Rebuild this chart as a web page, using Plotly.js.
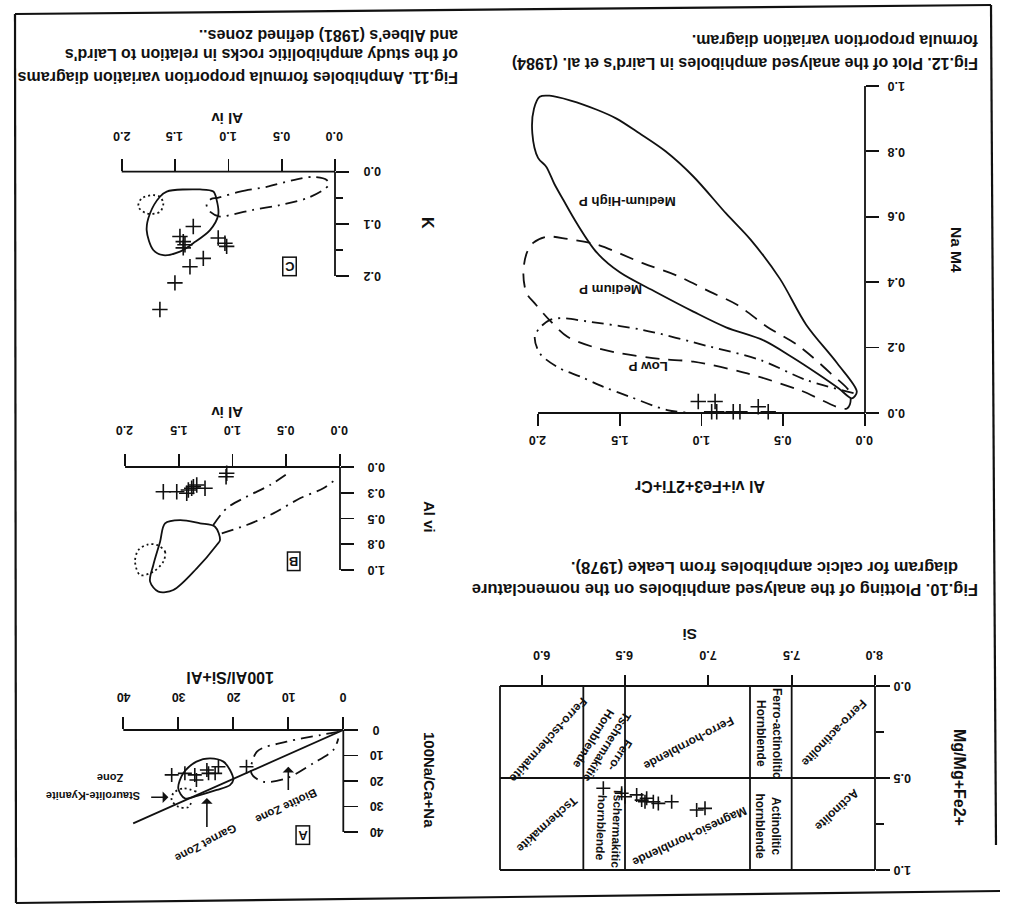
<!DOCTYPE html>
<html><head><meta charset="utf-8">
<script src="https://cdn.plot.ly/plotly-3.0.1.min.js"></script>
<style>html,body{margin:0;padding:0;background:#fff;}#chart{width:1010px;height:910px;}</style>
</head><body><div id="chart"></div>
<script>
// ================= DATA =================
// Fig.12  Laird et al. (1984): Al vi+Fe3+2Ti+Cr  vs  Na M4
const lairdXTicks = [0, 0.5, 1.0, 1.5, 2.0];
const lairdXTickText = ['0.0', '0.5', '1.0', '1.5', '2.0'];
const lairdYTicks = [0, 0.2, 0.4, 0.6, 0.8, 1.0];
const lairdYTickText = ['0.0', '0.2', '0.4', '0.6', '0.8', '1.0'];
const medHighPX = [0.05,0.17,0.36,0.52,0.70,0.85,1.05,1.22,1.38,1.52,1.64,1.80,1.93,1.99,2.025,2.035,2.00,1.95,1.90,1.845,1.763,1.64,1.50,1.28,1.05,0.85,0.62,0.45,0.29,0.16,0.08,0.05];
const medHighPY = [0.065,0.152,0.27,0.41,0.53,0.61,0.723,0.80,0.855,0.90,0.927,0.955,0.970,0.967,0.93,0.855,0.78,0.753,0.70,0.651,0.58,0.49,0.43,0.37,0.31,0.262,0.222,0.172,0.12,0.075,0.045,0.065];
const mediumPX = [0.09,0.21,0.40,0.60,0.78,0.95,1.15,1.36,1.64,1.82,1.947,2.03,2.07,2.09,2.07,2.02,1.93,1.82,1.65,1.50,1.25,1.05,0.72,0.40,0.11,0.09];
const mediumPY = [0.06,0.121,0.203,0.264,0.33,0.371,0.42,0.458,0.515,0.532,0.539,0.52,0.488,0.427,0.366,0.335,0.284,0.233,0.20,0.183,0.165,0.157,0.121,0.07,0.014,0.06];
const lowPX = [0.07,0.36,0.64,0.95,1.36,1.70,1.865,1.93,1.99,2.02,1.99,1.88,1.74,1.60,1.44,1.21,1.05];
const lowPY = [0.061,0.101,0.162,0.203,0.254,0.28,0.29,0.284,0.26,0.233,0.183,0.14,0.111,0.08,0.05,0.009,0.0];
const lairdSampleX = [1.02, 0.917, 0.653, 0.938, 0.907, 0.806, 0.765, 0.592];
const lairdSampleY = [0.035, 0.035, 0.019, 0.004, 0.004, 0.004, 0.004, 0.004];
const lairdFieldNames = ['Medium-High P', 'Medium P', 'Low P'];

// Fig.10  Leake (1978): Si vs Mg/Mg+Fe2+
const siTicks = [6.0, 6.5, 7.0, 7.5, 8.0];
const siTickText = ['6.0', '6.5', '7.0', '7.5', '8.0'];
const mgTicks = [0, 0.5, 1.0];
const mgTickText = ['0.0', '0.5', '1.0'];
const mgMinorTicks = [0.25, 0.75];
const siBounds = [5.75, 6.25, 6.5, 7.25, 7.5, 8.0];
const mgBounds = [0, 0.5, 1.0];
const leakeSi = [6.37, 6.48, 6.50, 6.57, 6.60, 6.62, 6.63, 6.67, 6.70, 6.78, 6.93, 6.98];
const leakeMg = [0.556, 0.583, 0.602, 0.592, 0.620, 0.629, 0.610, 0.629, 0.638, 0.629, 0.674, 0.665];
const leakeFieldNames = ['Ferro-actinolite', 'Actinolite', 'Ferro-actinolitic<br>Hornblende', 'Actinolitic<br>hornblende',
  'Ferro-hornblende', 'Magnesio-hornblende', 'Ferro-<br>Tschermakitic<br>Hornblende', 'Tschermakitic<br>hornblende',
  'Ferro-tschermakite', 'Tschermakite'];

// Fig.11 [C]  Al iv vs K
const alivTicks = [0, 0.5, 1.0, 1.5, 2.0];
const alivTickText = ['0.0', '0.5', '1.0', '1.5', '2.0'];
const kTicks = [0, 0.1, 0.2];
const kTickText = ['0.0', '0.1', '0.2'];
const kMinorTicks = [0.05, 0.15];
const garnetCX = [1.11,1.141,1.266,1.578,1.642,1.735,1.766,1.704,1.61,1.454,1.329,1.172,1.095,1.11];
const garnetCY = [0.054,0.038,0.034,0.038,0.048,0.080,0.112,0.150,0.160,0.153,0.137,0.112,0.083,0.054];
const stauroCX = [1.642,1.61,1.642,1.766,1.844,1.813,1.704,1.642];
const stauroCY = [0.048,0.061,0.077,0.080,0.067,0.051,0.045,0.048];
const biotiteCX = [1.10,0.891,0.641,0.391,0.204,0.078,0.06,0.110,0.265,0.516,0.766,0.985,1.079,1.18,1.204,1.16,1.10];
const biotiteCY = [0.05,0.038,0.029,0.016,0.010,0.016,0.025,0.035,0.051,0.064,0.073,0.083,0.086,0.075,0.062,0.052,0.05];
const sampleCX = [1.329, 1.454, 1.423, 1.407, 1.423, 1.095, 1.032, 1.016, 1.235, 1.360, 1.501, 1.642];
const sampleCY = [0.105, 0.124, 0.134, 0.140, 0.146, 0.127, 0.137, 0.143, 0.166, 0.182, 0.213, 0.264];

// Fig.11 [B]  Al iv vs Al vi
const alviTicks = [0, 0.25, 0.5, 0.75, 1.0];
const alviTickText = ['0.0', '0.3', '0.5', '0.8', '1.0'];
const garnetBX = [1.116,1.163,1.302,1.488,1.628,1.674,1.737,1.767,1.690,1.551,1.333,1.147,1.116];
const garnetBY = [0.709,0.580,0.547,0.515,0.547,0.725,0.951,1.113,1.210,1.194,0.984,0.757,0.709];
const stauroBX = [1.705,1.628,1.644,1.737,1.860,1.907,1.876,1.783,1.705];
const stauroBY = [0.757,0.822,0.919,1.016,1.049,0.919,0.806,0.751,0.757];
const biotiteBX = [1.179,1.054,0.868,0.651,0.465,null,1.100,0.868,0.620,0.372,0.155,0.031];
const biotiteBY = [0.563,0.401,0.288,0.175,0.046,null,0.644,0.563,0.450,0.304,0.207,0.110];
const sampleBX = [1.054, 1.060, 1.644, 1.519, 1.426, 1.411, 1.364, 1.333, 1.256, 1.380];
const sampleBY = [0.061, 0.094, 0.240, 0.240, 0.255, 0.223, 0.191, 0.175, 0.207, 0.207];

// Fig.11 [A]  100Al/Si+Al vs 100Na/Ca+Na
const aTicks = [0, 10, 20, 30, 40];
const aTickText = ['0', '10', '20', '30', '40'];
const zoneLineX = [0, 38.2];
const zoneLineY = [0, 36.6];
const garnetAX = [20,20.6,21.8,24.2,26.7,29.1,30.0,28.8,26.1,23.0,20.6,20];
const garnetAY = [19.6,15.7,12.4,11.1,12.4,17.0,22.9,26.8,25.5,23.5,21.6,19.6];
const stauroAX = [26.7,29.1,30.9,31.2,30.0,28.2,27.6];
const stauroAY = [24.2,22.9,24.8,27.5,30.1,30.3,28.1];
const biotiteAX = [0.9,4.2,10.3,15.7,16.7,14.5,10.3,5.5,1.8,0.9];
const biotiteAY = [0.7,2.0,4.6,8.5,17.0,20.3,18.9,13.1,7.8,3.3];
const sampleAX = [31.2, 28.8, 27.0, 26.7, 24.8, 24.5, 23.3, 22.7, 17.6];
const sampleAY = [17.6, 17.0, 17.6, 19.6, 15.7, 17.0, 17.0, 14.4, 14.4];
const zoneNamesA = ['Biotite Zone', 'Garnet Zone', 'Staurolite-Kyanite', 'Zone'];

// captions and axis titles
const captions = {
  fig12: ["Fig.12. Plot of the analysed amphiboles in Laird's et al. (1984)", 'formula proportion variation diagram.'],
  fig11: ['Fig.11. Amphiboles formula proportion variation diagrams', "of the study amphibolitic rocks in relation to Laird's", "and Albee's (1981) defined zones.."],
  fig10: ['Fig.10. Plotting of the analysed amphiboles on the nomenclature', 'diagram for calcic amphiboles from Leake (1978).']
};

// ================= LAYOUT / DRAWING =================
const W = 1010, H = 910;
const FONT = 'Liberation Sans, Arial, sans-serif';
const INK = '#111';
const LW = 1.8;
const fnt = (size) => ({family: FONT, size: size, color: INK, weight: 'bold'});

// subplot geometry: pixel boxes + ranges
const G = {
  f12: {x: 'x',  y: 'y',  xdom: [515, 865], ydom: [80, 413],   xr: [2.141, 0], yr: [0, 1.018], xside: 'bottom'},
  f10: {x: 'x2', y: 'y2', xdom: [498, 875], ydom: [686, 872],  xr: [5.738, 8.0], yr: [1.0109, 0], xside: 'top'},
  c:   {x: 'x3', y: 'y3', xdom: [115, 335], ydom: [171.7, 315], xr: [2.063, 0], yr: [0.2745, 0], xside: 'top'},
  b:   {x: 'x4', y: 'y4', xdom: [120, 340], ydom: [467, 598],  xr: [2.047, 0], yr: [1.272, 0], xside: 'top'},
  a:   {x: 'x5', y: 'y5', xdom: [80, 343.3], ydom: [730, 850], xr: [47.87, 0], yr: [47.06, 0], xside: 'top'}
};
const frac = (r, v) => (v - r[0]) / (r[1] - r[0]);

const layout = {
  width: W, height: H, margin: {l: 0, r: 0, t: 0, b: 0},
  paper_bgcolor: '#fff', plot_bgcolor: 'rgba(0,0,0,0)', showlegend: false, hovermode: false,
  shapes: [], annotations: []
};

function axisPair(key, xt, yt, xlen, ylen, yMinor, yMinorLen) {
  const g = G[key];
  const xn = g.x === 'x' ? 'xaxis' : 'xaxis' + g.x.slice(1);
  const yn = g.y === 'y' ? 'yaxis' : 'yaxis' + g.y.slice(1);
  const base = {showgrid: false, zeroline: false, showline: false, showticklabels: false,
    ticks: 'outside', tickcolor: INK, tickwidth: 1.7, fixedrange: true, tickmode: 'array'};
  layout[xn] = Object.assign({}, base, {domain: [g.xdom[0] / W, g.xdom[1] / W], range: g.xr,
    anchor: g.y, side: g.xside, tickvals: xt, ticklen: xlen});
  layout[yn] = Object.assign({}, base, {domain: [1 - g.ydom[1] / H, 1 - g.ydom[0] / H], range: g.yr,
    anchor: g.x, side: 'right', tickvals: yt, ticklen: ylen});
  if (yMinor) layout[yn].minor = {tickmode: 'array', tickvals: yMinor, ticks: 'outside', ticklen: yMinorLen, tickwidth: 1.7, tickcolor: INK};
}
axisPair('f12', lairdXTicks, lairdYTicks, 12, 13);
axisPair('f10', siTicks, mgTicks, 10, 14, mgMinorTicks, 8);
axisPair('c', alivTicks, kTicks, 12, 13, kMinorTicks, 7);
axisPair('b', alivTicks, alviTicks, 12, 13);
axisPair('a', aTicks, aTicks, 12, 14);

// line segment in data units, drawn with domain references (not clipped)
function seg(key, x0, y0, x1, y1, w) {
  const g = G[key];
  layout.shapes.push({type: 'line', xref: g.x + ' domain', yref: g.y + ' domain',
    x0: frac(g.xr, x0), y0: frac(g.yr, y0), x1: frac(g.xr, x1), y1: frac(g.yr, y1),
    line: {color: INK, width: w || LW}});
}
function axisLines(key, xt, yt, xAt, yAt) {
  seg(key, xt[0], yAt, xt[xt.length - 1], yAt);
  seg(key, xAt, yt[0], xAt, yt[yt.length - 1]);
}
axisLines('f12', lairdXTicks, lairdYTicks, 0, 0);
axisLines('c', alivTicks, kTicks, 0, 0);
axisLines('b', alivTicks, alviTicks, 0, 0);
axisLines('a', aTicks, aTicks, 0, 0);
// Leake diagram grid
siBounds.forEach(s => seg('f10', s, mgBounds[0], s, mgBounds[mgBounds.length - 1], LW));
mgBounds.forEach(m => seg('f10', siBounds[0], m, siBounds[siBounds.length - 1], m, LW));

// tick labels (upside down)
function tickLabelsX(key, vals, texts, yAt, shift) {
  const g = G[key];
  vals.forEach((v, i) => layout.annotations.push({xref: g.x, yref: g.y, x: v, y: yAt, yshift: shift,
    text: texts[i], textangle: 180, showarrow: false, font: fnt(12.5)}));
}
function tickLabelsY(key, vals, texts, xAt, shift) {
  const g = G[key];
  vals.forEach((v, i) => layout.annotations.push({xref: g.x, yref: g.y, x: xAt, y: v, xshift: shift,
    text: texts[i], textangle: 180, showarrow: false, font: fnt(12.5)}));
}
tickLabelsX('f12', lairdXTicks, lairdXTickText, 0, -27);
tickLabelsY('f12', lairdYTicks, lairdYTickText, 0, 32);
tickLabelsX('f10', siTicks, siTickText, 0, 31);
tickLabelsY('f10', mgTicks, mgTickText, 8.0, 28);
tickLabelsX('c', alivTicks, alivTickText, 0, 35);
tickLabelsY('c', kTicks, kTickText, 0, 38);
tickLabelsX('b', alivTicks, alivTickText, 0, 37);
tickLabelsY('b', alviTicks, alviTickText, 0, 37);
tickLabelsX('a', aTicks, aTickText, 0, 33);
tickLabelsY('a', aTicks, aTickText, 0, 33);

// text labels in paper pixels
function paperText(text, px, py, angle, size, xanchor) {
  layout.annotations.push({xref: 'paper', yref: 'paper', x: px / W, y: 1 - py / H, text: text,
    textangle: angle, showarrow: false, xanchor: xanchor || 'center', yanchor: 'middle', font: fnt(size)});
}
// text labels in data units
function dataText(key, text, x, y, angle, size, boxed) {
  const g = G[key];
  const a = {xref: g.x, yref: g.y, x: x, y: y, text: text, textangle: angle, showarrow: false, font: fnt(size)};
  if (boxed) { a.bordercolor = INK; a.borderwidth = 1.5; a.borderpad = 1; }
  layout.annotations.push(a);
}
// captions
paperText(captions.fig12[0], 980, 63, 180, 16, 'right');
paperText(captions.fig12[1], 980, 40, 180, 16, 'right');
paperText(captions.fig11[0], 460, 78, 180, 16, 'right');
paperText(captions.fig11[1], 460, 55, 180, 16, 'right');
paperText(captions.fig11[2], 460, 35, 180, 16, 'right');
paperText(captions.fig10[0], 980, 590, 180, 16.5, 'right');
paperText(captions.fig10[1], 960, 568, 180, 16.5, 'right');
// axis titles
paperText('Na M4', 957, 250, 90, 15.5);
paperText('Al vi+Fe3+2Ti+Cr', 700, 487, 180, 16);
paperText('Si', 690, 635, 180, 15.5);
paperText('Mg/Mg+Fe2+', 960, 777, 90, 16);
paperText('Al iv', 227, 118, 180, 15);
paperText('Al iv', 227, 412, 180, 15);
paperText('K', 428, 223, 90, 16);
paperText('Al vi', 430, 517, 90, 15);
paperText('100Al/Si+Al', 230, 678, 180, 16);
paperText('100Na/Ca+Na', 430, 780, 90, 15);

// field labels
dataText('f12', lairdFieldNames[0], 1.457, 0.646, 180, 13.3);
dataText('f12', lairdFieldNames[1], 1.56, 0.376, 180, 13.3);
dataText('f12', lairdFieldNames[2], 1.325, 0.142, 180, 13.3);
const leakePlace = [[7.75,0.257,134],[7.77,0.674,137],[7.36,0.257,90],[7.36,0.765,90],[6.88,0.311,152],
  [6.89,0.819,155],[6.39,0.330,122],[6.40,0.773,92],[6.04,0.293,132],[6.03,0.755,138]];
leakeFieldNames.forEach((n, i) => dataText('f10', n, leakePlace[i][0], leakePlace[i][1], leakePlace[i][2], 12));
dataText('c', 'C', 0.422, 0.182, 180, 13, true);
dataText('b', 'B', 0.434, 0.919, 180, 13, true);
dataText('a', 'A', 7.3, 41.2, 180, 13, true);
dataText('a', zoneNamesA[0], 10.3, 29.8, 155, 11.5);
dataText('a', zoneNamesA[1], 25.1, 44.4, 152, 11.5);
dataText('a', zoneNamesA[2], 45.5, 25.6, 180, 11);
dataText('a', zoneNamesA[3], 42.4, 18.9, 180, 11);
// arrows in [A]
function arrow(key, x, y, ax, ay) {
  const g = G[key];
  layout.annotations.push({xref: g.x, yref: g.y, axref: g.x, ayref: g.y, x: x, y: y, ax: ax, ay: ay,
    text: '', showarrow: true, arrowhead: 1, arrowsize: 1.2, arrowwidth: 1.6, arrowcolor: INK, standoff: 0});
}
arrow('a', 10.0, 14.4, 10.0, 24.1);
arrow('a', 24.8, 26.7, 24.8, 38.6);
arrow('a', 31.8, 26.4, 35.2, 26.4);

// page frame
function frameLine(x0, y0, x1, y1) {
  layout.shapes.push({type: 'line', xref: 'paper', yref: 'paper', x0: x0 / W, y0: 1 - y0 / H, x1: x1 / W, y1: 1 - y1 / H,
    line: {color: INK, width: 2.2}});
}
frameLine(15, 14, 16, 903);
frameLine(15, 14, 991, 5);
frameLine(991, 5, 996, 845);
frameLine(16, 903, 1000, 891);

// traces
const traces = [];
function curve(key, x, y, dash, spline) {
  const g = G[key];
  traces.push({type: 'scatter', mode: 'lines', x: x, y: y, xaxis: g.x, yaxis: g.y, hoverinfo: 'skip',
    line: {color: INK, width: LW, dash: dash, shape: spline ? 'spline' : 'linear', smoothing: 0.9}, connectgaps: false});
}
function crosses(key, x, y, size) {
  const g = G[key];
  traces.push({type: 'scatter', mode: 'markers', x: x, y: y, xaxis: g.x, yaxis: g.y, hoverinfo: 'skip', cliponaxis: false,
    marker: {symbol: 'cross-thin', size: size || 11, color: INK, line: {color: INK, width: 1.6}}});
}
const DASH = '14px,9px', DASHDOT = '12px,6px,2px,6px', DOT = '2px,3px';
curve('f12', medHighPX, medHighPY, 'solid', true);
curve('f12', mediumPX, mediumPY, DASH, true);
curve('f12', lowPX, lowPY, DASHDOT, true);
crosses('f12', lairdSampleX, lairdSampleY, 11);
crosses('f10', leakeSi, leakeMg, 10);
curve('c', garnetCX, garnetCY, 'solid', true);
curve('c', stauroCX, stauroCY, DOT, true);
curve('c', biotiteCX, biotiteCY, DASHDOT, true);
crosses('c', sampleCX, sampleCY, 11);
curve('b', garnetBX, garnetBY, 'solid', true);
curve('b', stauroBX, stauroBY, DOT, true);
curve('b', biotiteBX, biotiteBY, DASHDOT, true);
crosses('b', sampleBX, sampleBY, 11);
curve('a', zoneLineX, zoneLineY, 'solid', false);
curve('a', garnetAX, garnetAY, 'solid', true);
curve('a', stauroAX, stauroAY, DOT, true);
curve('a', biotiteAX, biotiteAY, DASHDOT, true);
crosses('a', sampleAX, sampleAY, 10);

Plotly.newPlot('chart', traces, layout, {displayModeBar: false, staticPlot: true});
</script>
</body></html>
